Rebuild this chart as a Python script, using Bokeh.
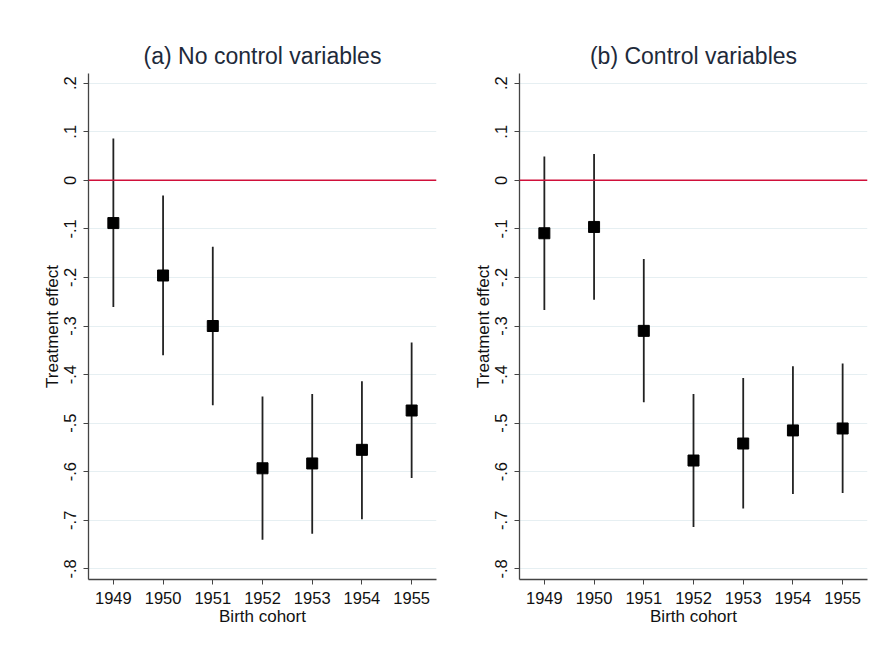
from bokeh.plotting import figure
from bokeh.layouts import row
from bokeh.models import FixedTicker, Span, Range1d, ColumnDataSource
from bokeh.embed import file_html
from bokeh.resources import INLINE

cohorts = [1949, 1950, 1951, 1952, 1953, 1954, 1955]

est_a = [-0.088, -0.196, -0.300, -0.593, -0.583, -0.555, -0.474]
lo_a = [-0.261, -0.360, -0.463, -0.740, -0.728, -0.698, -0.613]
hi_a = [0.086, -0.031, -0.137, -0.445, -0.440, -0.414, -0.334]

est_b = [-0.109, -0.096, -0.310, -0.577, -0.542, -0.515, -0.511]
lo_b = [-0.267, -0.246, -0.457, -0.714, -0.676, -0.646, -0.644]
hi_b = [0.049, 0.054, -0.162, -0.440, -0.407, -0.383, -0.377]

y_ticks = [0.2, 0.1, 0.0, -0.1, -0.2, -0.3, -0.4, -0.5, -0.6, -0.7, -0.8]
y_tick_labels = [".2", ".1", "0", "-.1", "-.2", "-.3", "-.4", "-.5", "-.6", "-.7", "-.8"]

titles = ["(a) No control variables", "(b) Control variables"]

FONT = "Liberation Sans"


def make_panel(title, est, lo, hi, width, border_left):
    p = figure(width=width, height=634, output_backend="svg", toolbar_location=None,
               x_range=Range1d(1948.5, 1955.5), y_range=Range1d(-0.822, 0.22),
               min_border_left=border_left, min_border_right=10,
               min_border_top=73, min_border_bottom=55)
    p.title.text = title
    p.title.text_font = FONT
    p.title.text_font_size = "23px"
    p.title.text_font_style = "normal"
    p.title.text_color = "#1e2a3a"
    p.title.align = "center"
    p.outline_line_color = None
    p.background_fill_color = "white"
    p.border_fill_color = "white"

    src = ColumnDataSource(dict(x=cohorts, est=est, lo=lo, hi=hi))
    p.segment(x0="x", y0="lo", x1="x", y1="hi", source=src, line_color="#222222", line_width=1.8)
    p.scatter(x="x", y="est", source=src, marker="square", size=11, fill_color="black", line_color="black")
    p.add_layout(Span(location=0, dimension="width", line_color="#d0103a", line_width=1.5))

    p.xgrid.grid_line_color = None
    p.ygrid.grid_line_color = "#e6eff2"
    p.ygrid.grid_line_width = 1.2

    p.xaxis.ticker = FixedTicker(ticks=cohorts)
    p.yaxis.ticker = FixedTicker(ticks=y_ticks)
    p.yaxis.major_label_overrides = {t: l for t, l in zip(y_ticks, y_tick_labels)}
    p.yaxis.major_label_orientation = "vertical"
    p.xaxis.axis_label = "Birth cohort"
    p.yaxis.axis_label = "Treatment effect"
    for ax in (p.xaxis[0], p.yaxis[0]):
        ax.axis_line_color = "#444444"
        ax.axis_line_width = 1.3
        ax.major_tick_line_color = "#444444"
        ax.major_tick_out = 5
        ax.major_tick_in = 0
        ax.minor_tick_line_color = None
        ax.major_label_text_font = FONT
        ax.major_label_text_font_size = "16.5px"
        ax.major_label_text_color = "#111111"
        ax.axis_label_text_font = FONT
        ax.axis_label_text_font_size = "17px"
        ax.axis_label_text_font_style = "normal"
        ax.axis_label_text_color = "#111111"
        ax.axis_label_standoff = 0
        ax.major_label_standoff = 7
    return p


pa = make_panel(titles[0], est_a, lo_a, hi_a, 446, 88)
pb = make_panel(titles[1], est_b, lo_b, hi_b, 431, 73)

layout = row(pa, pb)
open("out.html", "w").write(file_html(layout, INLINE))
